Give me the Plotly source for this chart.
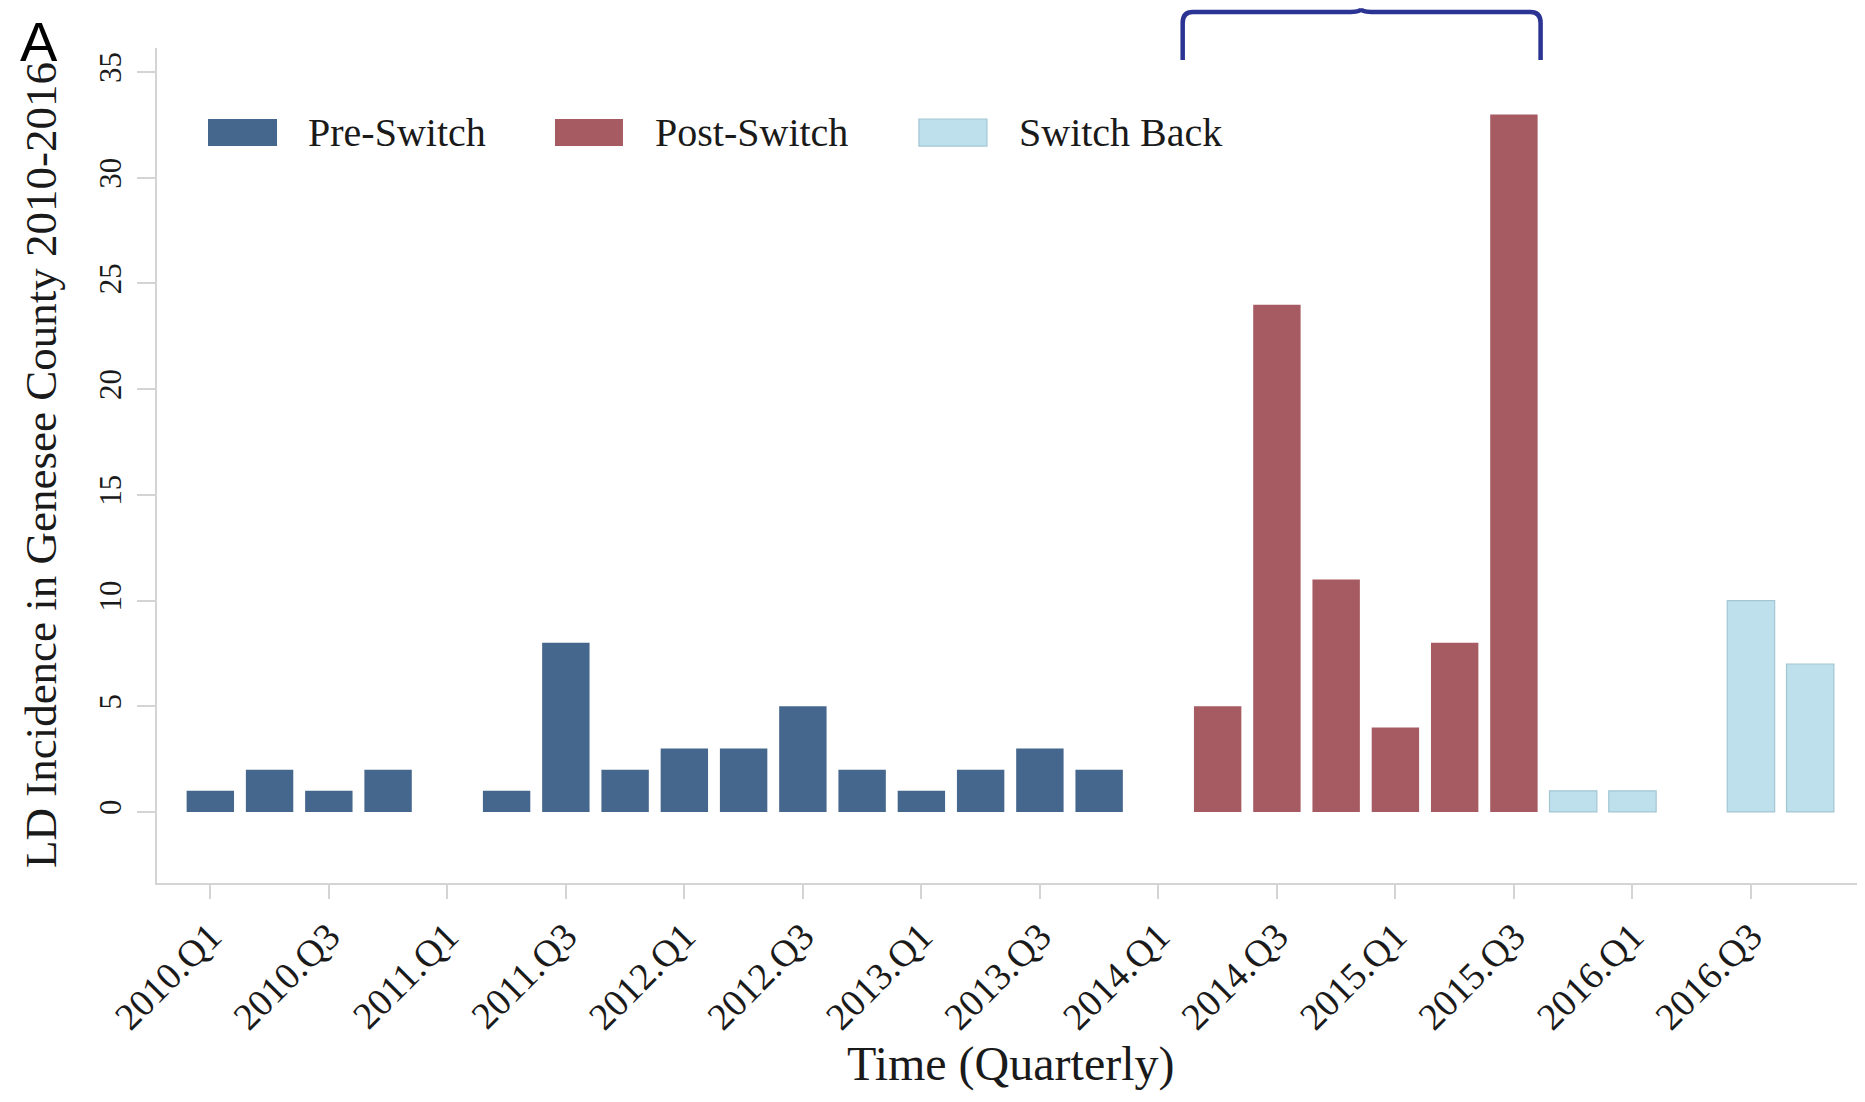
import plotly.graph_objects as go

# ---------------- data ----------------
quarters = [f"{y}.Q{q}" for y in range(2010, 2017) for q in range(1, 5)]

pre_quarters = ["2010.Q1", "2010.Q2", "2010.Q3", "2010.Q4",
                "2011.Q1", "2011.Q2", "2011.Q3", "2011.Q4",
                "2012.Q1", "2012.Q2", "2012.Q3", "2012.Q4",
                "2013.Q1", "2013.Q2", "2013.Q3", "2013.Q4",
                "2014.Q1"]
pre_values = [1, 2, 1, 2,
              0, 1, 8, 2,
              3, 3, 5, 2,
              1, 2, 3, 2,
              0]

post_quarters = ["2014.Q2", "2014.Q3", "2014.Q4",
                 "2015.Q1", "2015.Q2", "2015.Q3"]
post_values = [5, 24, 11, 4, 8, 33]

back_quarters = ["2015.Q4", "2016.Q1", "2016.Q2", "2016.Q3", "2016.Q4"]
back_values = [1, 1, 0, 10, 7]

tick_labels = quarters[::2]
y_ticks = [0, 5, 10, 15, 20, 25, 30, 35]

# ---------------- styles ----------------
C_PRE = "#46678d"
C_POST = "#a65a62"
C_BACK = "#bde0ec"
C_BACK_LINE = "#a3c6d3"
AXIS_C = "#d4d4d4"
TXT = "#1a1a1a"
SERIF = "Liberation Serif, Times New Roman, serif"

# The page body has an 8px margin; the figure is sized so it fits the window.
FIG_W, FIG_H = 1849, 1086
X_RANGE = [-0.9, 27.79]
Y_RANGE = [-3.36, 36.14]

fig = go.Figure()
fig.add_trace(go.Bar(x=pre_quarters, y=pre_values, name="Pre-Switch",
                     marker=dict(color=C_PRE, line=dict(width=0)), width=0.8))
fig.add_trace(go.Bar(x=post_quarters, y=post_values, name="Post-Switch",
                     marker=dict(color=C_POST, line=dict(width=0)), width=0.8))
fig.add_trace(go.Bar(x=back_quarters, y=back_values, name="Switch Back",
                     marker=dict(color=C_BACK,
                                 line=dict(color=C_BACK_LINE,
                                           width=[1.2 if v > 0 else 0 for v in back_values])),
                     width=0.8))

fig.update_layout(
    width=FIG_W, height=FIG_H,
    margin=dict(l=149, r=0, t=40, b=211),
    paper_bgcolor="white", plot_bgcolor="white",
    showlegend=False,
    barmode="overlay",
    font=dict(family=SERIF, color=TXT),
)

fig.update_xaxes(
    type="category", categoryorder="array", categoryarray=quarters,
    range=X_RANGE,
    tickmode="array", tickvals=tick_labels, ticktext=tick_labels,
    tickangle=-45, tickfont=dict(family=SERIF, size=38, color=TXT),
    ticks="outside", ticklen=14, tickwidth=1.5, tickcolor=AXIS_C,
    showline=True, linecolor=AXIS_C, linewidth=1.5,
    showgrid=False, zeroline=False,
)
fig.update_yaxes(
    range=Y_RANGE,
    tickmode="array", tickvals=y_ticks,
    tickangle=-90, tickfont=dict(family=SERIF, size=31, color=TXT),
    ticks="outside", ticklen=18, tickwidth=1.5, tickcolor=AXIS_C,
    ticklabelstandoff=4,
    showline=True, linecolor=AXIS_C, linewidth=1.5,
    showgrid=False, zeroline=False,
)

# ---------------- custom legend (wide swatches) ----------------
legend_items = [("Pre-Switch", C_PRE, None, 0.0300, 0.0706, 0.0876),
                ("Post-Switch", C_POST, None, 0.2341, 0.2741, 0.2918),
                ("Switch Back", C_BACK, C_BACK_LINE, 0.4482, 0.4882, 0.5059)]
for name, col, lcol, x0, x1, tx in legend_items:
    fig.add_shape(type="rect", xref="paper", yref="paper",
                  x0=x0, x1=x1, y0=0.8826, y1=0.915,
                  fillcolor=col,
                  line=dict(color=lcol if lcol else col, width=1.2 if lcol else 0))
    fig.add_annotation(xref="paper", yref="paper", x=tx, y=0.899,
                       xanchor="left", yanchor="middle", showarrow=False,
                       text=name, font=dict(family=SERIF, size=40, color=TXT))

# ---------------- brace over the post-switch period ----------------
def px(xv):
    return (xv - X_RANGE[0]) / (X_RANGE[1] - X_RANGE[0])

xl, xm, xr = px(16.41), px(19.42), px(22.45)
y_end, y_bar, y_peak = 0.9856, 1.0431, 1.0475
rx, ry = 0.006, 0.013
path = (f"M {xl},{y_end} L {xl},{y_bar - ry} Q {xl},{y_bar} {xl + rx},{y_bar} "
        f"L {xm - rx},{y_bar} Q {xm},{y_bar} {xm},{y_peak} "
        f"Q {xm},{y_bar} {xm + rx},{y_bar} "
        f"L {xr - rx},{y_bar} Q {xr},{y_bar} {xr},{y_bar - ry} L {xr},{y_end}")
fig.add_shape(type="path", xref="paper", yref="paper", path=path,
              line=dict(color="#2b3393", width=4.5))

# ---------------- titles ----------------
fig.add_annotation(xref="paper", yref="paper", x=-0.0682, y=0.5006,
                   textangle=-90, showarrow=False, xanchor="center", yanchor="middle",
                   text="LD Incidence in Genesee County 2010-2016",
                   font=dict(family=SERIF, size=45, color=TXT))
fig.add_annotation(xref="paper", yref="paper", x=0.5024, y=-0.2515,
                   showarrow=False, xanchor="center", yanchor="bottom",
                   text="Time (Quarterly)",
                   font=dict(family=SERIF, size=48, color=TXT))
fig.add_annotation(xref="paper", yref="paper", x=-0.0815, y=1.0475,
                   showarrow=False, xanchor="left", yanchor="top",
                   text="A", font=dict(family="Liberation Sans, Arial, sans-serif",
                                       size=56, color="#000000"))

fig.write_html("out.html")
